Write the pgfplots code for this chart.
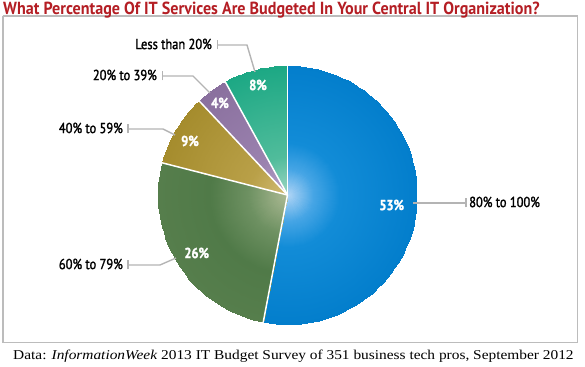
\documentclass[border=0pt]{standalone}
\usepackage{pgfplots}
\pgfplotsset{compat=1.18}
\usepackage{fontspec}
\setmainfont[FakeStretch=1.14]{Liberation Serif}
\newfontfamily\titlefont[FakeStretch=0.92]{PT Sans}
\newfontfamily\labfont[FakeStretch=0.86,FakeBold=1.6]{PT Sans}
\definecolor{titlered}{RGB}{180,30,36}
\definecolor{linegray}{RGB}{180,180,180}
\definecolor{framegray}{RGB}{188,188,188}
\pgfplotsset{
  colormap={cblue}{rgb255(0cm)=(175,212,245) rgb255(2cm)=(70,165,229) rgb255(4cm)=(18,140,215) rgb255(10cm)=(3,126,204)},
  colormap={cgreen}{rgb255(0cm)=(172,186,148) rgb255(3cm)=(110,145,98) rgb255(6cm)=(80,122,72) rgb255(10cm)=(86,126,76)},
  colormap={cgold}{rgb255(0cm)=(210,188,118) rgb255(3cm)=(185,160,72) rgb255(10cm)=(165,140,45)},
  colormap={cpurple}{rgb255(0cm)=(185,168,205) rgb255(3cm)=(155,130,175) rgb255(10cm)=(138,112,158)},
  colormap={cteal}{rgb255(0cm)=(160,214,196) rgb255(3cm)=(80,188,155) rgb255(10cm)=(28,168,132)},
}
% shares in percent, clockwise from 12 o'clock
\def\vA{53}\def\vB{26}\def\vC{9}\def\vD{4}\def\vE{8}
\pgfmathsetmacro\aA{90}
\pgfmathsetmacro\aB{\aA-\vA*3.6}
\pgfmathsetmacro\aC{\aB-\vB*3.6}
\pgfmathsetmacro\aD{\aC-\vC*3.6}
\pgfmathsetmacro\aE{\aD-\vD*3.6}
\pgfmathsetmacro\aF{\aE-\vE*3.6}
\def\cx{287.5}\def\cy{171}\def\rr{129.5}
\begin{document}
\begin{tikzpicture}
\path[use as bounding box] (0,0) rectangle (585pt,366pt);
\begin{axis}[at={(0,0)}, anchor=south west, width=585pt, height=366pt, scale only axis,
  view={0}{90}, xmin=0, xmax=585, ymin=0, ymax=366, zmin=0, zmax=1,
  hide axis, clip=false, point meta min=0, point meta max=1]
% frame
\addplot3[framegray, line width=1.6pt] coordinates {(2.7,350,0) (577.5,350,0) (577.5,23.3,0) (2.7,23.3,0) (2.7,350,0)};
% slices
\addplot3[surf, shader=interp, colormap name=cblue, domain=\aB:\aA, y domain=0:1, samples=70, samples y=16] ({\cx+\rr*y*cos(x)},{\cy+\rr*y*sin(x)},{y});
\addplot3[surf, shader=interp, colormap name=cgreen, domain=\aC:\aB, y domain=0:1, samples=40, samples y=16] ({\cx+\rr*y*cos(x)},{\cy+\rr*y*sin(x)},{y});
\addplot3[surf, shader=interp, colormap name=cgold, domain=\aD:\aC, y domain=0:1, samples=15, samples y=16] ({\cx+\rr*y*cos(x)},{\cy+\rr*y*sin(x)},{y});
\addplot3[surf, shader=interp, colormap name=cpurple, domain=\aE:\aD, y domain=0:1, samples=10, samples y=16] ({\cx+\rr*y*cos(x)},{\cy+\rr*y*sin(x)},{y});
\addplot3[surf, shader=interp, colormap name=cteal, domain=\aF:\aE, y domain=0:1, samples=15, samples y=16] ({\cx+\rr*y*cos(x)},{\cy+\rr*y*sin(x)},{y});
% separators
\addplot3[white, line width=1.5pt, domain=0:1, samples=2, samples y=0] ({\cx+130*x*cos(\aA)},{\cy+130*x*sin(\aA)},{1});
\addplot3[white, line width=1.5pt, domain=0:1, samples=2, samples y=0] ({\cx+130*x*cos(\aB)},{\cy+130*x*sin(\aB)},{1});
\addplot3[white, line width=1.5pt, domain=0:1, samples=2, samples y=0] ({\cx+130*x*cos(\aC)},{\cy+130*x*sin(\aC)},{1});
\addplot3[white, line width=1.5pt, domain=0:1, samples=2, samples y=0] ({\cx+130*x*cos(\aD)},{\cy+130*x*sin(\aD)},{1});
\addplot3[white, line width=1.5pt, domain=0:1, samples=2, samples y=0] ({\cx+130*x*cos(\aE)},{\cy+130*x*sin(\aE)},{1});
% leader lines
\addplot3[linegray, line width=1.4pt] coordinates {(217.5,321,1) (247,321,1) (255,294,1)};
\addplot3[linegray, line width=1.4pt] coordinates {(217.5,316.5,1) (217.5,325.5,1)};
\addplot3[linegray, line width=1.4pt] coordinates {(162.5,290,1) (193,290,1) (210,273,1)};
\addplot3[linegray, line width=1.4pt] coordinates {(162.5,285.5,1) (162.5,294.5,1)};
\addplot3[linegray, line width=1.4pt] coordinates {(128,237,1) (163,237,1) (175,231,1)};
\addplot3[linegray, line width=1.4pt] coordinates {(128,232.5,1) (128,241.5,1)};
\addplot3[linegray, line width=1.4pt] coordinates {(128,101,1) (160,101,1) (176,108,1)};
\addplot3[linegray, line width=1.4pt] coordinates {(128,96.5,1) (128,105.5,1)};
\addplot3[linegray, line width=1.4pt] coordinates {(413,163,1) (466,163,1)};
\addplot3[linegray, line width=1.4pt] coordinates {(466,158.5,1) (466,167.5,1)};
% category labels
\node[anchor=east, inner sep=0pt, font=\labfont\fontsize{14.5}{14.5}\selectfont] at (axis cs:212,322,1) {Less than 20\%};
\node[anchor=east, inner sep=0pt, font=\labfont\fontsize{14.5}{14.5}\selectfont] at (axis cs:157,291,1) {20\% to 39\%};
\node[anchor=east, inner sep=0pt, font=\labfont\fontsize{14.5}{14.5}\selectfont] at (axis cs:123,238,1) {40\% to 59\%};
\node[anchor=east, inner sep=0pt, font=\labfont\fontsize{14.5}{14.5}\selectfont] at (axis cs:123,102,1) {60\% to 79\%};
\node[anchor=west, inner sep=0pt, font=\labfont\fontsize{14.5}{14.5}\selectfont] at (axis cs:469,164,1) {80\% to 100\%};
% percentages
\node[white, inner sep=0pt, font=\labfont\bfseries\fontsize{14.5}{14.5}\selectfont] at (axis cs:391.7,161,1) {53\%};
\node[white, inner sep=0pt, font=\labfont\bfseries\fontsize{14.5}{14.5}\selectfont] at (axis cs:196.7,113,1) {26\%};
\node[white, inner sep=0pt, font=\labfont\bfseries\fontsize{14.5}{14.5}\selectfont] at (axis cs:190,225,1) {9\%};
\node[white, inner sep=0pt, font=\labfont\bfseries\fontsize{14.5}{14.5}\selectfont] at (axis cs:220,263,1) {4\%};
\node[white, inner sep=0pt, font=\labfont\bfseries\fontsize{14.5}{14.5}\selectfont] at (axis cs:258,281,1) {8\%};
% title and source
\node[anchor=base west, inner sep=0pt, text=titlered, font=\titlefont\bfseries\fontsize{17.5}{17.5}\selectfont] at (axis cs:3,351,1) {What Percentage Of IT Services Are Budgeted In Your Central IT Organization?};
\node[anchor=base west, inner sep=0pt, font=\fontsize{13.5}{13.5}\selectfont] at (axis cs:13,6,1) {Data: \textit{InformationWeek} 2013 IT Budget Survey of 351 business tech pros, September 2012};
\end{axis}
\end{tikzpicture}
\end{document}
